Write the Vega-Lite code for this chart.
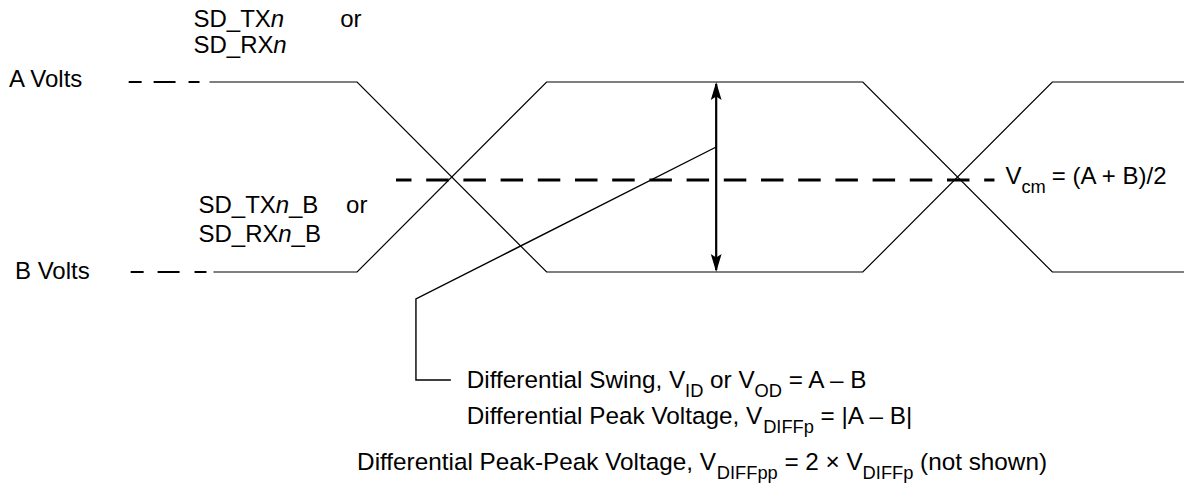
{
  "$schema": "https://vega.github.io/schema/vega-lite/v6.json",
  "width": 1187,
  "height": 489,
  "autosize": {"type": "fit", "contains": "padding"},
  "padding": 0,
  "background": "white",
  "config": {"view": {"stroke": null}},
  "datasets": {
    "wave": [
      {"sig": "A", "i": 1, "x": 210, "y": 82},
      {"sig": "A", "i": 2, "x": 358, "y": 82},
      {"sig": "A", "i": 3, "x": 548, "y": 272},
      {"sig": "A", "i": 4, "x": 865, "y": 272},
      {"sig": "A", "i": 5, "x": 1055, "y": 82},
      {"sig": "A", "i": 6, "x": 1187, "y": 82},
      {"sig": "B", "i": 1, "x": 214, "y": 272},
      {"sig": "B", "i": 2, "x": 358, "y": 272},
      {"sig": "B", "i": 3, "x": 548, "y": 82},
      {"sig": "B", "i": 4, "x": 865, "y": 82},
      {"sig": "B", "i": 5, "x": 1055, "y": 272},
      {"sig": "B", "i": 6, "x": 1187, "y": 272}
    ],
    "leftdash": [
      {"x": 129, "x2": 142, "y": 82},
      {"x": 154, "x2": 176, "y": 82},
      {"x": 189, "x2": 200, "y": 82},
      {"x": 131, "x2": 144, "y": 272},
      {"x": 158, "x2": 180, "y": 272},
      {"x": 195, "x2": 207, "y": 272}
    ],
    "center": [
      {"i": 1, "x": 397, "y": 180},
      {"i": 2, "x": 997, "y": 180}
    ],
    "arrow": [
      {"i": 1, "x": 718, "y": 84},
      {"i": 2, "x": 718, "y": 270}
    ],
    "heads": [
      {"end": "top", "x": 718, "y": 82},
      {"end": "bottom", "x": 718, "y": 272}
    ],
    "pointer": [
      {"i": 1, "x": 718, "y": 147},
      {"i": 2, "x": 417, "y": 299},
      {"i": 3, "x": 417, "y": 380},
      {"i": 4, "x": 452, "y": 380}
    ],
    "labels": [
      {"t": "A Volts", "x": 9, "y": 87},
      {"t": "B Volts", "x": 15, "y": 279},
      {"t": "SD_TX", "x": 194, "y": 27},
      {"t": "or", "x": 341, "y": 27},
      {"t": "SD_RX", "x": 194, "y": 53},
      {"t": "SD_TX", "x": 199, "y": 213},
      {"t": "_B", "x": 289.7, "y": 213},
      {"t": "or", "x": 347, "y": 213},
      {"t": "SD_RX", "x": 199, "y": 242},
      {"t": "_B", "x": 292.3, "y": 242},
      {"t": "V", "x": 1008, "y": 184},
      {"t": "= (A + B)/2", "x": 1054.5, "y": 184}
    ],
    "ital": [
      {"t": "n", "x": 271.4, "y": 27},
      {"t": "n", "x": 274, "y": 53},
      {"t": "n", "x": 276.4, "y": 213},
      {"t": "n", "x": 279, "y": 242}
    ],
    "notes": [
      {"t": "Differential Swing, V", "x": 468, "y": 388},
      {"t": "or V", "x": 711.9, "y": 388},
      {"t": "= A – B", "x": 790.7, "y": 388},
      {"t": "Differential Peak Voltage, V", "x": 468, "y": 424},
      {"t": "= |A – B|", "x": 822.7, "y": 424},
      {"t": "Differential Peak-Peak Voltage, V", "x": 358, "y": 470},
      {"t": "= 2 × V", "x": 786.4, "y": 470},
      {"t": "(not shown)", "x": 922.4, "y": 470}
    ],
    "subs": [
      {"t": "cm", "x": 1024, "y": 193},
      {"t": "ID", "x": 686.8, "y": 397},
      {"t": "OD", "x": 756.5, "y": 397},
      {"t": "DIFFp", "x": 765.1, "y": 433},
      {"t": "DIFFpp", "x": 718.6, "y": 479},
      {"t": "DIFFp", "x": 864.8, "y": 479}
    ]
  },
  "encoding": {
    "x": {"field": "x", "type": "quantitative", "scale": {"domain": [0, 1187], "nice": false, "zero": false}, "axis": null},
    "y": {"field": "y", "type": "quantitative", "scale": {"domain": [0, 489], "reverse": true, "nice": false, "zero": false}, "axis": null}
  },
  "layer": [
    {
      "data": {"name": "wave"},
      "mark": {"type": "line", "color": "black", "strokeWidth": 1.2},
      "encoding": {"detail": {"field": "sig"}, "order": {"field": "i", "type": "quantitative"}}
    },
    {
      "data": {"name": "leftdash"},
      "mark": {"type": "rule", "color": "black", "strokeWidth": 2},
      "encoding": {"x2": {"field": "x2"}}
    },
    {
      "data": {"name": "center"},
      "mark": {"type": "line", "color": "black", "strokeWidth": 3, "strokeDash": [22.5, 14.7], "strokeDashOffset": 7},
      "encoding": {"order": {"field": "i", "type": "quantitative"}}
    },
    {
      "data": {"name": "pointer"},
      "mark": {"type": "line", "color": "black", "strokeWidth": 1.4},
      "encoding": {"order": {"field": "i", "type": "quantitative"}}
    },
    {
      "data": {"name": "arrow"},
      "mark": {"type": "line", "color": "black", "strokeWidth": 2.2},
      "encoding": {"order": {"field": "i", "type": "quantitative"}}
    },
    {
      "data": {"name": "heads"},
      "mark": {"type": "point", "filled": true, "color": "black", "opacity": 1, "size": 324},
      "encoding": {
        "shape": {"field": "end", "type": "nominal", "scale": {"domain": ["top", "bottom"], "range": ["M0,0L0.6,2L0,1.6L-0.6,2Z", "M0,0L0.6,-2L0,-1.6L-0.6,-2Z"]}, "legend": null}
      }
    },
    {
      "data": {"name": "labels"},
      "mark": {"type": "text", "font": "Liberation Sans", "fontSize": 24, "align": "left", "baseline": "alphabetic", "color": "black"},
      "encoding": {"text": {"field": "t"}}
    },
    {
      "data": {"name": "ital"},
      "mark": {"type": "text", "font": "Liberation Sans", "fontSize": 24, "fontStyle": "italic", "align": "left", "baseline": "alphabetic", "color": "black"},
      "encoding": {"text": {"field": "t"}}
    },
    {
      "data": {"name": "notes"},
      "mark": {"type": "text", "font": "Liberation Sans", "fontSize": 24.3, "align": "left", "baseline": "alphabetic", "color": "black"},
      "encoding": {"text": {"field": "t"}}
    },
    {
      "data": {"name": "subs"},
      "mark": {"type": "text", "font": "Liberation Sans", "fontSize": 18.3, "align": "left", "baseline": "alphabetic", "color": "black"},
      "encoding": {"text": {"field": "t"}}
    }
  ]
}
